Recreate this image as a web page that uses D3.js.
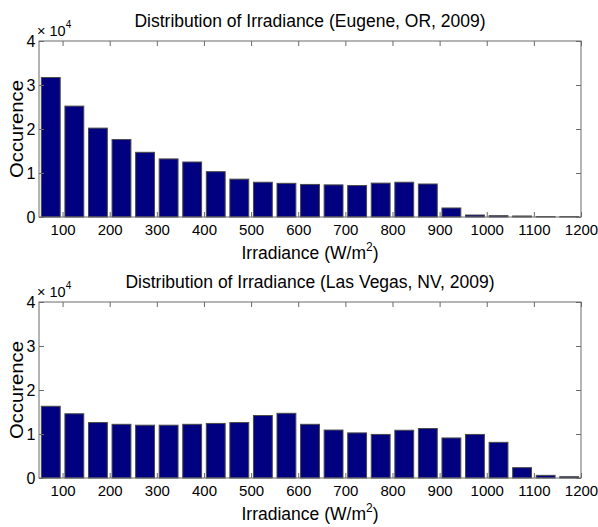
<!DOCTYPE html>
<html>
<head>
<meta charset="utf-8">
<script src="https://cdn.jsdelivr.net/npm/d3@7/dist/d3.min.js"></script>
<style>
  html, body { margin: 0; padding: 0; background: #fff; }
  svg { display: block; }
  text { font-family: "Liberation Sans", Arial, Helvetica, sans-serif; fill: #000; }
</style>
</head>
<body>
<svg id="chart" width="598" height="527"></svg>
<script>
// ---- data ----
const binCenters = [75, 125, 175, 225, 275, 325, 375, 425, 475, 525, 575, 625,
                    675, 725, 775, 825, 875, 925, 975, 1025, 1075, 1125, 1175];
const eugeneCounts = [31700, 25200, 20200, 17600, 14700, 13200, 12500, 10300, 8600, 7900, 7650, 7400,
                      7300, 7150, 7700, 7900, 7500, 2050, 450, 300, 230, 100, 80];
const vegasCounts = [16300, 14600, 12600, 12200, 12000, 12000, 12200, 12400, 12600, 14200, 14700, 12200,
                     10900, 10250, 9900, 10850, 11250, 9100, 9900, 8100, 2350, 600, 300];
const xTickValues = [100, 200, 300, 400, 500, 600, 700, 800, 900, 1000, 1100, 1200];
const yTickValues = [0, 10000, 20000, 30000, 40000];
const titles = ["Distribution of Irradiance (Eugene, OR, 2009)",
                "Distribution of Irradiance (Las Vegas, NV, 2009)"];

const svg = d3.select("#chart");
svg.append("rect").attr("width", 598).attr("height", 527).attr("fill", "#fff");

const left = 39, right = 581;
const x = d3.scaleLinear().domain([50, 1200]).range([left, right]);
const binWidth = 50, barRatio = 0.8;
const boxColor = "#6b6b6b";

function panel(top, bottom, counts, title) {
  const y = d3.scaleLinear().domain([0, 40000]).range([bottom, top]);
  const g = svg.append("g");

  // bars
  g.selectAll("rect.bar").data(binCenters).enter().append("rect")
    .attr("class", "bar")
    .attr("x", d => x(d - binWidth * barRatio / 2))
    .attr("width", d => x(d + binWidth * barRatio / 2) - x(d - binWidth * barRatio / 2))
    .attr("y", (d, i) => y(counts[i]))
    .attr("height", (d, i) => y(0) - y(counts[i]))
    .attr("fill", "#000080")
    .attr("stroke", "#4a4a4a")
    .attr("stroke-width", 1);

  const fontTick = "15px";
  // bottom axis
  const ax = g.append("g").attr("transform", `translate(0,${bottom})`)
    .call(d3.axisBottom(x).tickValues(xTickValues).tickSizeInner(-5).tickSizeOuter(0).tickPadding(7.5)
      .tickFormat(d3.format("d")));
  ax.attr("font-size", null).attr("font-family", null);
  ax.selectAll("text").style("font-size", fontTick).attr("fill", "#000");
  // top axis
  g.append("g").attr("transform", `translate(0,${top})`)
    .call(d3.axisTop(x).tickValues(xTickValues).tickSizeInner(-5).tickSizeOuter(0).tickFormat(""));
  // left axis
  const al = g.append("g").attr("transform", `translate(${left},0)`)
    .call(d3.axisLeft(y).tickValues(yTickValues).tickSizeInner(-5).tickSizeOuter(0).tickPadding(3.5)
      .tickFormat(d => String(d / 10000)));
  al.attr("font-size", null).attr("font-family", null);
  al.selectAll("text").style("font-size", "16px").attr("fill", "#000");
  // right axis
  g.append("g").attr("transform", `translate(${right},0)`)
    .call(d3.axisRight(y).tickValues(yTickValues).tickSizeInner(-5).tickSizeOuter(0).tickFormat(""));

  g.selectAll(".domain").remove();
  g.selectAll(".tick line").attr("stroke", boxColor);

  // box
  g.append("rect").attr("x", left).attr("y", top)
    .attr("width", right - left).attr("height", bottom - top)
    .attr("fill", "none").attr("stroke", boxColor).attr("stroke-width", 1);

  // exponent label
  const ex = g.append("text").attr("x", 37).attr("y", top - 5.5).style("font-size", "14.5px");
  ex.append("tspan").text("\u00d7 10");
  ex.append("tspan").attr("dy", -8).style("font-size", "10px").text("4");

  // title
  g.append("text").attr("x", (left + right) / 2).attr("y", top - 14.5)
    .attr("text-anchor", "middle").style("font-size", "17.5px").text(title);

  // x label
  const xl = g.append("text").attr("x", (left + right) / 2).attr("y", bottom + 42)
    .attr("text-anchor", "middle").style("font-size", "17.5px");
  xl.append("tspan").text("Irradiance (W/m");
  xl.append("tspan").attr("dy", -8).style("font-size", "12px").text("2");
  xl.append("tspan").attr("dy", 8).text(")");

  // y label
  g.append("text")
    .attr("transform", `translate(22.5,${(top + bottom) / 2}) rotate(-90)`)
    .attr("text-anchor", "middle").style("font-size", "18px")
    .attr("textLength", 98).attr("lengthAdjust", "spacingAndGlyphs")
    .text("Occurence");
}

panel(41, 217, eugeneCounts, titles[0]);
panel(302, 478, vegasCounts, titles[1]);
</script>
</body>
</html>
